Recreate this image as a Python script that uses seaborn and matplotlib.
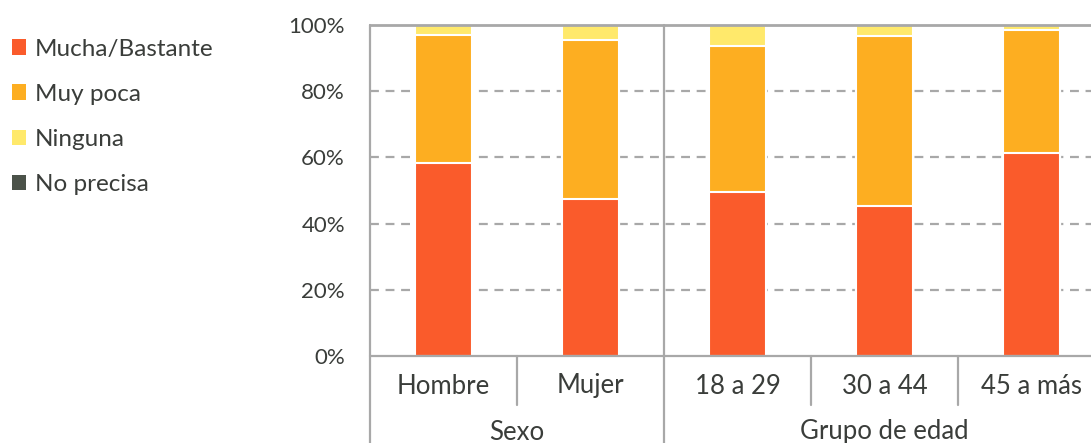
import matplotlib.pyplot as plt
import matplotlib.transforms as mtransforms
from matplotlib.patches import Patch
import numpy as np
import pandas as pd
import seaborn as sns

# Data (percent of respondents)
categories = ["Hombre", "Mujer", "18 a 29", "30 a 44", "45 a más"]
groups = ["Sexo", "Sexo", "Grupo de edad", "Grupo de edad", "Grupo de edad"]
mucha_bastante = [58.2, 47.5, 49.5, 45.3, 61.3]
muy_poca = [38.9, 48.1, 44.2, 51.4, 37.2]
ninguna = [2.9, 4.4, 6.3, 3.3, 1.5]
no_precisa = [0.0, 0.0, 0.0, 0.0, 0.0]

series_names = ["Mucha/Bastante", "Muy poca", "Ninguna", "No precisa"]
colors = ["#FA5B2B", "#FDAE21", "#FFE96B", "#4B5249"]
TEXT = "#3A3D3A"
GRID = "#A8A8A8"


def main() -> None:
    sns.set_style("white")
    plt.rcParams["font.family"] = ["Lato", "DejaVu Sans"]

    df = pd.DataFrame({
        "category": categories,
        "group": groups,
        "Mucha/Bastante": mucha_bastante,
        "Muy poca": muy_poca,
        "Ninguna": ninguna,
        "No precisa": no_precisa,
    })
    # cumulative tops so the bars can be layered from the tallest down
    cum = df[series_names].cumsum(axis=1)

    fig = plt.figure(figsize=(10.91, 4.43), dpi=100)
    W, H = 1091, 443
    x0, x1 = 370, 1105
    y0, y1 = 356, 25
    ax = fig.add_axes([x0 / W, 1 - y0 / H, (x1 - x0) / W, (y0 - y1) / H])

    for name, color in reversed(list(zip(series_names, colors))):
        sns.barplot(x=df["category"], y=cum[name], color=color, width=0.39,
                    edgecolor="white", linewidth=1.5, saturation=1, ax=ax,
                    order=categories)

    ax.set_ylim(0, 100)
    ax.set_xlim(-0.5, len(categories) - 0.5)
    ax.set_yticks(np.arange(0, 101, 20))
    ax.set_yticklabels([f"{v}%" for v in range(0, 101, 20)], fontsize=16, color=TEXT)
    ax.tick_params(axis="y", length=0, pad=18)
    ax.set_xticks([])
    ax.set_xlabel("")
    ax.set_ylabel("")

    for v in [20, 40, 60, 80]:
        ax.axhline(v, color=GRID, linestyle=(0, (4, 3)), linewidth=1.6, zorder=0)

    for side in ["right", "bottom"]:
        ax.spines[side].set_visible(False)
    ax.spines["top"].set_color(GRID)
    ax.spines["top"].set_linewidth(2)
    ax.spines["left"].set_visible(False)

    # hierarchical category axis below the plot
    tr = mtransforms.blended_transform_factory(ax.transData, ax.transAxes)
    bottom_fig = -(H - y0) / (y0 - y1)
    label_row = -(405 - y0) / (y0 - y1)
    line_kw = dict(color=GRID, linewidth=1.6, transform=tr, clip_on=False)
    ax.plot([-0.5, len(categories) - 0.5], [0, 0], **line_kw)
    ax.plot([-0.5, -0.5], [1, bottom_fig - 0.05], **line_kw)

    for i, cat in enumerate(categories):
        ax.text(i, -(386 - y0) / (y0 - y1), cat, transform=tr, ha="center",
                va="center", fontsize=18.5, color=TEXT)

    group_names = list(dict.fromkeys(groups))
    for g in group_names:
        idx = [i for i, gg in enumerate(groups) if gg == g]
        ax.text(np.mean(idx), -(432 - y0) / (y0 - y1), g, transform=tr,
                ha="center", va="center", fontsize=18.5, color=TEXT)
        # boundary after this group spans full height
        end = idx[-1] + 0.5
        if end < len(categories) - 0.5:
            ax.plot([end, end], [1, bottom_fig - 0.05], **line_kw)
        for j in idx[:-1]:
            ax.plot([j + 0.5, j + 0.5], [0, label_row], **line_kw)

    handles = [Patch(facecolor=c, edgecolor="none") for c in colors]
    fig.legend(handles, series_names, loc="upper left", bbox_to_anchor=(0.011, 0.913),
               frameon=False, fontsize=17.5, handlelength=0.58, handleheight=0.58,
               handletextpad=0.37, labelspacing=0.99, borderpad=0, borderaxespad=0,
               labelcolor=TEXT)

    fig.savefig("out.png", dpi=100)
    plt.close(fig)


if __name__ == "__main__":
    main()
